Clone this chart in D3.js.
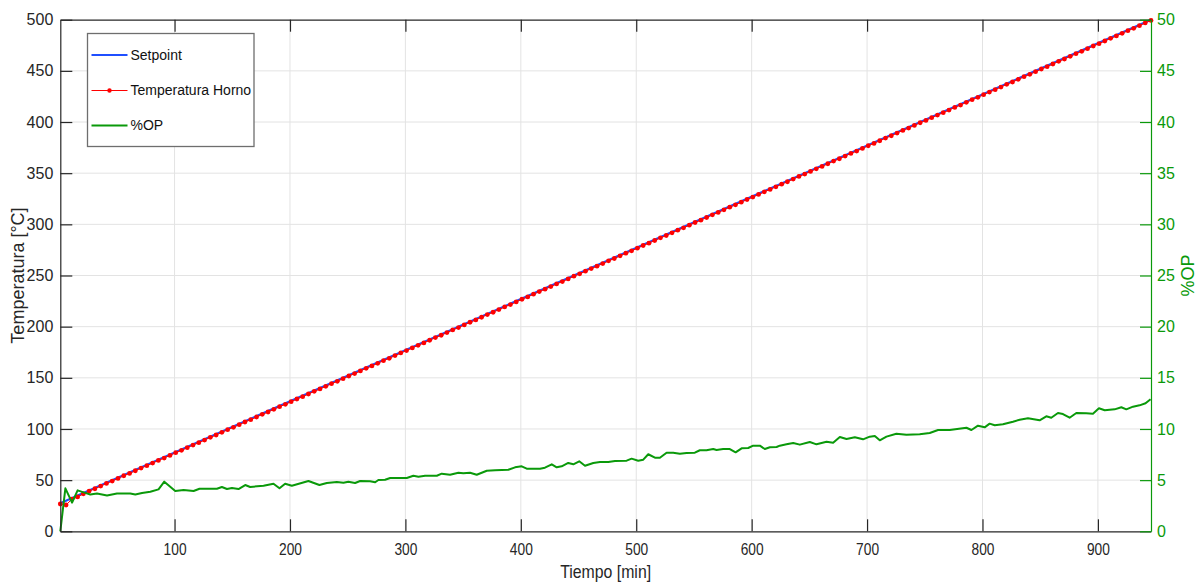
<!DOCTYPE html>
<html>
<head>
<meta charset="utf-8">
<script src="https://cdn.jsdelivr.net/npm/d3@7"></script>
<style>
  body { margin: 0; background: #fff; }
  svg { display: block; font-family: "Liberation Sans", Arial, Helvetica, sans-serif; }
</style>
</head>
<body>
<svg id="chart" width="1198" height="584"></svg>
<script>
// ---- data ----
const timeTicks = [100, 200, 300, 400, 500, 600, 700, 800, 900];
const tempTicks = [0, 50, 100, 150, 200, 250, 300, 350, 400, 450, 500];
const opTicks = [0, 5, 10, 15, 20, 25, 30, 35, 40, 45, 50];

// setpoint ramp (min, °C)
const setpointTime = [1, 946];
const setpointValue = [27.5, 500];

// oven temperature, sampled every 5 min starting at minute 1
const ovenStart = 1;
const ovenStep = 5;
const ovenTemp = [
  26.7, 25.7, 31.4, 33.6, 36.6, 39.3, 41.6, 44.2, 46.8, 49.1,
  51.7, 54.3, 56.6, 59.2, 61.8, 64.1, 66.7, 69.3, 71.6, 74.2,
  76.8, 79.1, 81.7, 84.3, 86.6, 89.2, 91.8, 94.1, 96.7, 99.3,
  101.6, 104.2, 106.8, 109.1, 111.7, 114.3, 116.6, 119.2, 121.8, 124.1,
  126.7, 129.3, 131.6, 134.2, 136.8, 139.1, 141.7, 144.3, 146.6, 149.2,
  151.8, 154.1, 156.7, 159.3, 161.6, 164.2, 166.8, 169.1, 171.7, 174.3,
  176.6, 179.2, 181.8, 184.1, 186.7, 189.3, 191.6, 194.2, 196.8, 199.1,
  201.7, 204.3, 206.6, 209.2, 211.8, 214.1, 216.7, 219.3, 221.6, 224.2,
  226.8, 229.1, 231.7, 234.3, 236.6, 239.2, 241.8, 244.1, 246.7, 249.3,
  251.6, 254.2, 256.8, 259.1, 261.7, 264.3, 266.6, 269.2, 271.8, 274.1,
  276.7, 279.3, 281.6, 284.2, 286.8, 289.1, 291.7, 294.3, 296.6, 299.2,
  301.8, 304.1, 306.7, 309.3, 311.6, 314.2, 316.8, 319.1, 321.7, 324.3,
  326.6, 329.2, 331.8, 334.1, 336.7, 339.3, 341.6, 344.2, 346.8, 349.1,
  351.7, 354.3, 356.6, 359.2, 361.8, 364.1, 366.7, 369.3, 371.6, 374.2,
  376.8, 379.1, 381.7, 384.3, 386.6, 389.2, 391.8, 394.1, 396.7, 399.3,
  401.6, 404.2, 406.8, 409.1, 411.7, 414.3, 416.6, 419.2, 421.8, 424.1,
  426.7, 429.3, 431.6, 434.2, 436.8, 439.1, 441.7, 444.3, 446.6, 449.2,
  451.8, 454.1, 456.7, 459.3, 461.6, 464.2, 466.8, 469.1, 471.7, 474.3,
  476.6, 479.2, 481.8, 484.1, 486.7, 489.3, 491.6, 494.2, 496.8, 499.3
];

// controller output (%OP)
const opTime = [
  1.0, 5.4, 11.2, 16.0, 21.2, 27.0, 32.8, 41.5, 50.1, 61.6, 66.0, 71.8,
  79.0, 86.1, 91.1, 100.6, 107.8, 116.5, 121.6, 136.7, 141.0, 145.4, 149.7, 155.4, 161.2, 165.5,
  177.1, 185.7, 190.9, 195.8, 201.6, 216.0, 225.5, 231.9, 240.6, 246.3, 250.6, 256.4, 260.8,
  269.4, 273.8, 276.6, 282.4, 286.8, 301.2, 306.9, 311.3, 317.1, 327.2, 331.5, 338.7, 345.9,
  350.2, 356.0, 361.8, 370.5, 377.7, 389.2, 395.0, 400.8, 405.1, 416.6,
  420.9, 426.8, 431.1, 435.4, 441.1, 445.5, 450.6, 455.6, 462.8, 468.6, 475.8, 481.6, 491.7,
  496.0, 501.7, 506.1, 510.4, 516.2, 520.5, 526.3, 532.0, 537.8, 543.6, 550.8, 555.1, 560.9,
  566.7, 569.6, 575.3, 581.1, 586.1, 591.3, 597.0, 601.3, 607.1, 611.4, 615.8, 621.6, 624.4,
  630.2, 636.0, 641.7, 650.4, 656.2,
  664.9, 670.6, 676.4, 682.2, 689.4, 696.5, 702.3, 706.7, 711.0, 716.8, 725.4, 734.1, 745.6,
  754.3, 761.5, 771.6, 786.1, 790.4, 796.1, 801.9, 806.2, 810.6, 817.7, 826.4, 832.2, 839.4,
  849.5, 855.3, 859.6, 865.4, 869.7, 875.5, 881.3, 889.9, 895.7, 900.9, 905.9, 914.5, 920.3,
  924.6, 930.4, 936.1, 941.3, 945.6
];
const opValue = [
  0.0, 4.2, 2.8, 4.0, 3.8, 3.6, 3.7, 3.5, 3.7, 3.7, 3.6, 3.75,
  3.87, 4.1, 4.85, 3.94, 4.04, 3.94, 4.16, 4.16, 4.33, 4.13, 4.23, 4.13, 4.52, 4.33,
  4.46, 4.65, 4.2, 4.65, 4.46, 4.92, 4.52, 4.72, 4.82, 4.75, 4.85, 4.72, 4.92,
  4.89, 4.79, 5.01, 5.04, 5.21, 5.21, 5.43, 5.34, 5.43, 5.43, 5.63, 5.53, 5.73,
  5.67, 5.73, 5.53, 5.92, 5.96, 6.02, 6.25, 6.35, 6.12, 6.12,
  6.22, 6.55, 6.25, 6.35, 6.68, 6.55, 6.84, 6.41, 6.68, 6.77, 6.77, 6.87, 6.9,
  7.1, 6.9, 7.0, 7.53, 7.19, 7.19, 7.68, 7.68, 7.58, 7.65, 7.68, 7.92, 7.92,
  8.04, 7.95, 8.04, 8.04, 7.72, 8.11, 8.14, 8.37, 8.37, 8.04, 8.21, 8.24, 8.37,
  8.5, 8.63, 8.47, 8.73, 8.5,
  8.76, 8.66, 9.22, 9.02, 9.19, 8.99, 9.25, 9.31, 8.89, 9.25, 9.54, 9.44, 9.48,
  9.61, 9.9, 9.9, 10.12, 9.9, 10.32, 10.16, 10.52, 10.36, 10.46, 10.71, 10.91, 11.04,
  10.85, 11.24, 11.1, 11.56, 11.46, 11.1, 11.56, 11.53, 11.5, 12.02, 11.83, 11.92, 12.12,
  11.92, 12.18, 12.31, 12.51, 12.9
];

const seriesNames = ["Setpoint", "Temperatura Horno", "%OP"];

// ---- layout ----
const plot = { left: 60.3, right: 1151, top: 19.7, bottom: 531.3 };
const colors = { setpoint: "#1f4fff", oven: "#ff0000", op: "#0a990a", axis: "#262626", grid: "#e3e3e3" };

const svg = d3.select("#chart");

const x = d3.scaleLinear().domain([1, 946]).range([plot.left, plot.right]);
const y = d3.scaleLinear().domain([0, 500]).range([plot.bottom, plot.top]);
const yOp = d3.scaleLinear().domain([0, 50]).range([plot.bottom, plot.top]);

// grid
const grid = svg.append("g").attr("stroke", colors.grid).attr("stroke-width", 1);
grid.selectAll("line.v").data(timeTicks).join("line")
  .attr("x1", d => x(d)).attr("x2", d => x(d))
  .attr("y1", plot.top).attr("y2", plot.bottom);
grid.selectAll("line.h").data(tempTicks.filter(d => d > 0 && d < 500)).join("line")
  .attr("x1", plot.left).attr("x2", plot.right)
  .attr("y1", d => y(d)).attr("y2", d => y(d));

// series
const ovenData = ovenTemp.map((v, i) => ({ t: ovenStart + i * ovenStep, v }));
const setData = setpointTime.map((t, i) => ({ t, v: setpointValue[i] }));
const opData = opTime.map((t, i) => ({ t, v: opValue[i] }));

svg.append("clipPath").attr("id", "plotclip").append("rect")
  .attr("x", plot.left - 3).attr("y", plot.top - 3)
  .attr("width", plot.right - plot.left + 6).attr("height", plot.bottom - plot.top + 6);

const series = svg.append("g").attr("clip-path", "url(#plotclip)");

series.append("path").datum(setData)
  .attr("fill", "none").attr("stroke", colors.setpoint).attr("stroke-width", 2.2)
  .attr("d", d3.line().x(d => x(d.t)).y(d => y(d.v)));

series.append("path").datum(ovenData)
  .attr("fill", "none").attr("stroke", colors.oven).attr("stroke-width", 1)
  .attr("d", d3.line().x(d => x(d.t)).y(d => y(d.v)));
series.append("g").selectAll("circle").data(ovenData).join("circle")
  .attr("cx", d => x(d.t)).attr("cy", d => y(d.v)).attr("r", 2.4)
  .attr("fill", colors.oven);

series.append("path").datum(opData)
  .attr("fill", "none").attr("stroke", colors.op).attr("stroke-width", 2)
  .attr("stroke-linejoin", "round")
  .attr("d", d3.line().x(d => x(d.t)).y(d => yOp(d.v)));

// axes
function styleAxis(g, color, size) {
  g.selectAll("path").attr("stroke", color).attr("stroke-width", 1.2);
  g.selectAll("line").attr("stroke", color).attr("stroke-width", 1.2);
  g.selectAll("text").attr("fill", color).attr("font-size", size)
    .attr("font-family", '"Liberation Sans", Arial, sans-serif');
}

svg.append("g").attr("transform", `translate(0,${plot.bottom})`)
  .call(d3.axisBottom(x).tickValues(timeTicks).tickFormat(d3.format("d")).tickSizeInner(-12).tickSizeOuter(0).tickPadding(12))
  .call(g => styleAxis(g, colors.axis, 16))
  .call(g => g.selectAll("text").attr("transform", "scale(0.86,1)"));

svg.append("g").attr("transform", `translate(0,${plot.top})`)
  .call(d3.axisTop(x).tickValues(timeTicks).tickFormat("").tickSizeInner(-12).tickSizeOuter(0))
  .call(g => styleAxis(g, colors.axis, 15));

svg.append("g").attr("transform", `translate(${plot.left},0)`)
  .call(d3.axisLeft(y).tickValues(tempTicks).tickFormat(d3.format("d")).tickSizeInner(-12).tickSizeOuter(0).tickPadding(7))
  .call(g => styleAxis(g, colors.axis, 16));

svg.append("g").attr("transform", `translate(${plot.right},0)`)
  .call(d3.axisRight(yOp).tickValues(opTicks).tickFormat(d3.format("d")).tickSizeInner(-11).tickSizeOuter(0).tickPadding(6))
  .call(g => styleAxis(g, colors.op, 16));

// axis titles
svg.append("text")
  .attr("transform", `translate(24,${(plot.top + plot.bottom) / 2}) rotate(-90)`)
  .attr("text-anchor", "middle").attr("fill", colors.axis).attr("font-size", 18)
  .text("Temperatura [°C]");

svg.append("text")
  .attr("transform", `translate(${(plot.left + plot.right) / 2},578) scale(0.88,1)`)
  .attr("text-anchor", "middle").attr("fill", colors.axis).attr("font-size", 18)
  .text("Tiempo [min]");

svg.append("text")
  .attr("transform", `translate(1194,${(plot.top + plot.bottom) / 2}) rotate(-90)`)
  .attr("text-anchor", "middle").attr("fill", colors.op).attr("font-size", 18)
  .text("%OP");

// legend
const legend = svg.append("g").attr("transform", "translate(87.5,33.5)");
legend.append("rect").attr("width", 166.5).attr("height", 113)
  .attr("fill", "#fff").attr("stroke", "#6e6e6e").attr("stroke-width", 1.3);

const legendRows = [
  { name: seriesNames[0], color: colors.setpoint, width: 2, marker: false, yy: 21.5 },
  { name: seriesNames[1], color: colors.oven, width: 1, marker: true, yy: 57 },
  { name: seriesNames[2], color: colors.op, width: 2, marker: false, yy: 92 }
];
const rows = legend.selectAll("g.row").data(legendRows).join("g")
  .attr("transform", d => `translate(0,${d.yy})`);
rows.append("line").attr("x1", 4).attr("x2", 40).attr("y1", 0).attr("y2", 0)
  .attr("stroke", d => d.color).attr("stroke-width", d => d.width);
rows.filter(d => d.marker).append("circle").attr("cx", 22).attr("cy", 0).attr("r", 2.2)
  .attr("fill", d => d.color);
rows.append("text").attr("x", 43).attr("y", 0).attr("dy", "0.35em")
  .attr("font-size", 14).attr("fill", "#111").text(d => d.name);
</script>
</body>
</html>
